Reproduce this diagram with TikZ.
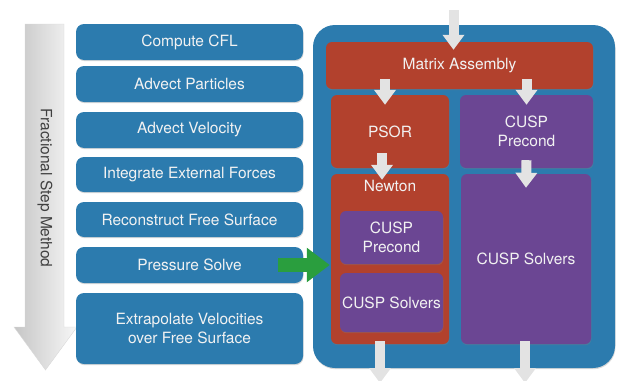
\documentclass[tikz,border=0pt]{standalone}
\usepackage{fontspec}
\setmainfont{TeX Gyre Heros}
\usepackage{xcolor}
\usetikzlibrary{arrows.meta,shadows,positioning}

\definecolor{stepblue}{RGB}{44,123,174}
\definecolor{solvered}{RGB}{178,65,45}
\definecolor{cusppurple}{RGB}{107,70,147}
\definecolor{pushgreen}{RGB}{42,158,62}
\definecolor{boxtext}{RGB}{242,242,242}

\tikzset{
    boxfont/.style={font=\fontsize{15.5}{18.5}\selectfont, text=boxtext, align=center},
    stepbox/.style={boxfont, fill=stepblue, rounded corners=8pt, inner sep=0pt,
        minimum width=227pt, minimum height=36pt,
        drop shadow={shadow xshift=0.5pt, shadow yshift=-1.2pt, opacity=0.3}},
    redbox/.style={stepbox, fill=solvered, rounded corners=6pt},
    purplebox/.style={stepbox, fill=cusppurple, rounded corners=6pt},
    flowarrow/.style={draw=gray!22, line width=10pt, -{Triangle[width=21pt,length=15pt]}},
    greenarrow/.style={draw=pushgreen, line width=14pt, -{Triangle[width=33pt,length=23pt]}}
}

\begin{document}
\begin{tikzpicture}[x=1pt,y=-1pt]
    \useasboundingbox (0,0) rectangle (618,380);

    % time axis on the left
    \shade[left color=gray!45, right color=gray!6, draw=gray!30, line width=0.4pt]
        (25,24) -- (64,24) -- (64,327) -- (77,327) -- (45.5,370) -- (14,327) -- (25,327) -- cycle;
    \node[rotate=-90, text=black!75, font=\fontsize{15.5}{18}\selectfont] (fsm) at (45,188) {Fractional Step Method};

    % the steps
    \node[stepbox] (cfl) at (189.5,42) {Compute CFL};
    \node[stepbox] (advp) at (189.5,84) {Advect Particles};
    \node[stepbox] (advv) at (189.5,130) {Advect Velocity};
    \node[stepbox, minimum height=35pt] (forces) at (189.5,174.5) {Integrate External Forces};
    \node[stepbox, minimum height=35pt] (recon) at (189.5,219.5) {Reconstruct Free Surface};
    \node[stepbox] (ps) at (189.5,265) {Pressure Solve};
    \node[stepbox, minimum height=71pt] (extrap) at (189.5,328.5) {Extrapolate Velocities\\over Free Surface};

    % pressure solver
    \node[stepbox, rounded corners=22pt, minimum width=302pt, minimum height=343pt] (solver) at (464,196.5) {};
    \node[redbox, minimum width=267pt, minimum height=47pt] (ma) at (459.5,65.5) {Matrix Assembly};
    \node[redbox, minimum width=118pt, minimum height=73pt] (psor) at (390,131.5) {PSOR};
    \node[purplebox, minimum width=133pt, minimum height=73pt] (precond) at (526.5,131.5) {CUSP\\Precond};
    \node[redbox, minimum width=118pt, minimum height=170pt,
        label={[boxfont, anchor=north, yshift=-3pt]north:Newton}] (newton) at (390,259) {};
    \node[purplebox, minimum width=103pt, minimum height=53pt] (nprecond) at (391.5,237.5) {CUSP\\Precond};
    \node[purplebox, minimum width=103pt, minimum height=59pt] (nsolvers) at (391.5,302.5) {CUSP Solvers};
    \node[purplebox, minimum width=130pt, minimum height=170pt] (solvers) at (526,259) {CUSP Solvers};

    \coordinate (in) at (453.5,10);
    \coordinate (out1) at (380,383);
    \coordinate (out2) at (525,383);

    \draw[flowarrow] (in) -- ([yshift=-8pt]in |- ma.north);
    \draw[flowarrow] ([xshift=-5pt,yshift=10pt]psor.north |- ma.south) -- ([xshift=-5pt,yshift=-10pt]psor.north);
    \draw[flowarrow] ([yshift=10pt]precond.north |- ma.south) -- ([yshift=-10pt]precond.north);
    \draw[flowarrow] ([xshift=-8pt,yshift=15pt]psor.south) -- ([xshift=-8pt,yshift=-6pt]newton.north);
    \draw[flowarrow] ([yshift=8pt]precond.south) -- ([yshift=-14pt]solvers.north);
    \draw[flowarrow] ([yshift=3pt]out1 |- newton.south) -- (out1);
    \draw[flowarrow] ([yshift=3pt]out2 |- solvers.south) -- (out2);

    \draw[greenarrow] ([xshift=-25pt]ps.east) -- ([xshift=-1pt]ps.east -| newton.west);
\end{tikzpicture}
\end{document}
